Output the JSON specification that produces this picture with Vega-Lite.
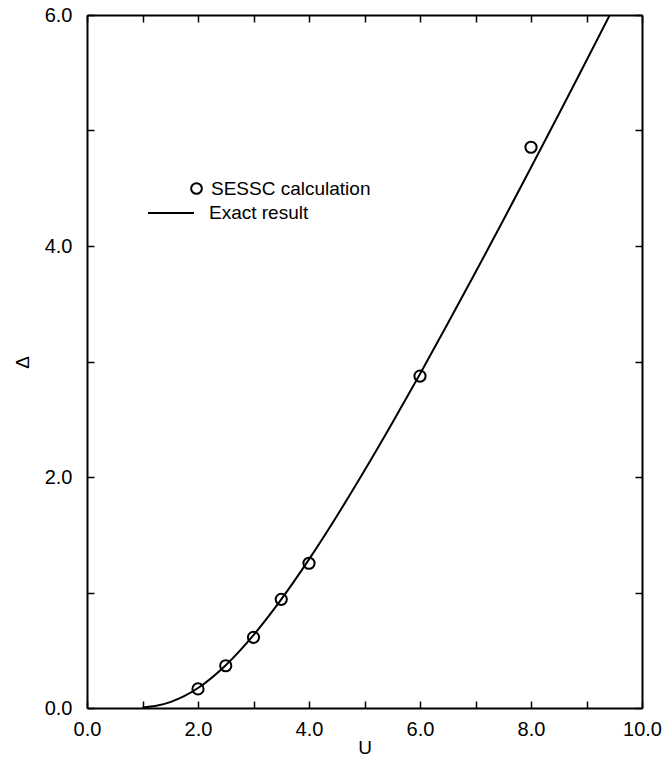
{
  "$schema": "https://vega.github.io/schema/vega-lite/v6.json",
  "width": 555,
  "height": 693,
  "autosize": "none",
  "padding": {"left": 87, "top": 15, "right": 23, "bottom": 60},
  "background": "white",
  "config": {
    "view": {"stroke": null},
    "font": "Liberation Sans",
    "axis": {
      "grid": false,
      "ticks": true,
      "domainColor": "black",
      "domainWidth": 2,
      "tickColor": "black",
      "tickWidth": 1.5,
      "labelFont": "Liberation Sans",
      "labelFontSize": 20,
      "labelColor": "black",
      "titleFont": "Liberation Sans",
      "titleFontSize": 19,
      "titleFontWeight": "normal",
      "titleColor": "black",
      "labelFlush": false,
      "labelOverlap": false,
      "zindex": 1
    },
    "legend": {
      "labelFont": "Liberation Sans",
      "labelFontSize": 19,
      "labelColor": "black",
      "padding": 0
    }
  },
  "layer": [
    {
      "data": {
        "values": [
          {"U": 1.0, "Delta": 0.0050, "c": "Exact result"},
          {"U": 1.25, "Delta": 0.0200, "c": "Exact result"},
          {"U": 1.5, "Delta": 0.0513, "c": "Exact result"},
          {"U": 1.75, "Delta": 0.1020, "c": "Exact result"},
          {"U": 2.0, "Delta": 0.1728, "c": "Exact result"},
          {"U": 2.5, "Delta": 0.3706, "c": "Exact result"},
          {"U": 3.0, "Delta": 0.6314, "c": "Exact result"},
          {"U": 3.5, "Delta": 0.9407, "c": "Exact result"},
          {"U": 4.0, "Delta": 1.2867, "c": "Exact result"},
          {"U": 4.5, "Delta": 1.6606, "c": "Exact result"},
          {"U": 5.0, "Delta": 2.0559, "c": "Exact result"},
          {"U": 5.5, "Delta": 2.4677, "c": "Exact result"},
          {"U": 6.0, "Delta": 2.8927, "c": "Exact result"},
          {"U": 6.5, "Delta": 3.3281, "c": "Exact result"},
          {"U": 7.0, "Delta": 3.7720, "c": "Exact result"},
          {"U": 7.5, "Delta": 4.2229, "c": "Exact result"},
          {"U": 8.0, "Delta": 4.6795, "c": "Exact result"},
          {"U": 8.5, "Delta": 5.1410, "c": "Exact result"},
          {"U": 9.0, "Delta": 5.6065, "c": "Exact result"},
          {"U": 9.5, "Delta": 6.0755, "c": "Exact result"}
        ]
      },
      "mark": {"type": "line", "strokeWidth": 2, "clip": true, "interpolate": "monotone"},
      "encoding": {
        "x": {
          "field": "U", "type": "quantitative",
          "scale": {"domain": [0, 10], "nice": false},
          "axis": {
            "orient": "bottom",
            "values": [0, 1, 2, 3, 4, 5, 6, 7, 8, 9, 10],
            "tickSize": -7,
            "labelPadding": 18,
            "labelExpr": "datum.value % 2 === 0 ? format(datum.value, '.1f') : ''",
            "title": "U",
            "titleY": 39,
            "titleBaseline": "middle",
            "encode": {"ticks": {"update": {"y2": {"signal": "datum.value % 2 === 0 ? -7 : -4"}}}}
          }
        },
        "y": {
          "field": "Delta", "type": "quantitative",
          "scale": {"domain": [0, 6], "nice": false},
          "axis": {
            "orient": "left",
            "values": [0, 1, 2, 3, 4, 5, 6],
            "tickSize": -7,
            "labelPadding": 22,
            "labelExpr": "datum.value % 2 === 0 ? format(datum.value, '.1f') : ''",
            "title": "Δ",
            "titleX": -65,
            "titleY": 347,
            "titleBaseline": "middle",
            "encode": {"ticks": {"update": {"x2": {"signal": "datum.value % 2 === 0 ? 7 : 4"}}}}
          }
        },
        "color": {
          "field": "c", "type": "nominal",
          "scale": {"range": ["black"]},
          "legend": {
            "orient": "none",
            "legendX": 60,
            "legendY": 174,
            "title": null,
            "symbolType": "stroke",
            "symbolSize": 2116,
            "symbolStrokeWidth": 2,
            "symbolStrokeColor": "black",
            "labelOffset": 14
          }
        }
      }
    },
    {
      "data": {
        "values": [
          {"U": 2.0, "Delta": 0.165, "s": "SESSC calculation"},
          {"U": 2.5, "Delta": 0.366, "s": "SESSC calculation"},
          {"U": 3.0, "Delta": 0.612, "s": "SESSC calculation"},
          {"U": 3.5, "Delta": 0.941, "s": "SESSC calculation"},
          {"U": 4.0, "Delta": 1.253, "s": "SESSC calculation"},
          {"U": 6.0, "Delta": 2.874, "s": "SESSC calculation"},
          {"U": 8.0, "Delta": 4.855, "s": "SESSC calculation"}
        ]
      },
      "mark": {"type": "point", "filled": false, "color": "black", "size": 125, "strokeWidth": 2, "opacity": 1},
      "encoding": {
        "x": {
          "field": "U", "type": "quantitative",
          "scale": {"domain": [0, 10], "nice": false},
          "axis": {
            "orient": "top",
            "values": [0, 1, 2, 3, 4, 5, 6, 7, 8, 9, 10],
            "tickSize": -7,
            "labels": false,
            "title": null,
            "encode": {"ticks": {"update": {"y2": {"signal": "datum.value % 2 === 0 ? 7 : 4"}}}}
          }
        },
        "y": {
          "field": "Delta", "type": "quantitative",
          "scale": {"domain": [0, 6], "nice": false},
          "axis": {
            "orient": "right",
            "values": [0, 1, 2, 3, 4, 5, 6],
            "tickSize": -7,
            "labels": false,
            "title": null,
            "encode": {"ticks": {"update": {"x2": {"signal": "datum.value % 2 === 0 ? -7 : -4"}}}}
          }
        },
        "shape": {
          "field": "s", "type": "nominal",
          "scale": {"range": ["circle"]},
          "legend": {
            "orient": "none",
            "legendX": 100,
            "legendY": 164,
            "title": null,
            "symbolSize": 115,
            "symbolStrokeWidth": 2,
            "symbolStrokeColor": "black",
            "symbolFillColor": "transparent",
            "labelOffset": 5
          }
        }
      }
    }
  ],
  "resolve": {"axis": {"x": "independent", "y": "independent"}}
}
